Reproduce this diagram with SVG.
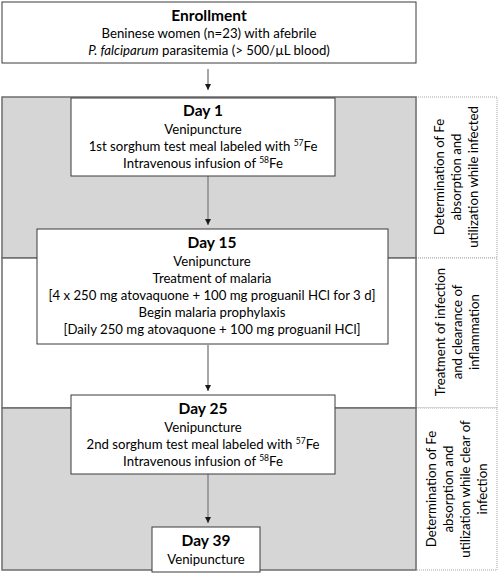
<svg xmlns="http://www.w3.org/2000/svg" width="498" height="574" viewBox="0 0 498 574">
<defs>
<style>
text{font-family:Lato,"Liberation Sans",sans-serif;font-size:13.2px;fill:#000;text-anchor:middle}
.h{font-weight:bold;font-size:15.5px}
.box{fill:#fff;stroke:#3a3a3a;stroke-width:1}
.band{stroke:#6e6e6e;stroke-width:1.5}
.lab{fill:#fff;stroke:#a8a8a8;stroke-width:1;stroke-dasharray:1,1}
.conn{stroke:#8a8a8a;stroke-width:1.5;fill:none;marker-end:url(#ah)}
.sup{font-size:8.5px}
</style>
<marker id="ah" markerWidth="8" markerHeight="8" refX="6" refY="3" orient="auto" markerUnits="userSpaceOnUse">
<path d="M0,0 L6,3 L0,6 Z" fill="#1a1a1a"/>
</marker>
</defs>
<rect x="0" y="0" width="498" height="574" fill="#fff"/>
<g id="labels">
<rect class="lab" x="416" y="97" width="81" height="161"/>
<rect class="lab" x="416" y="258" width="81" height="150"/>
<rect class="lab" x="416" y="408" width="81" height="162"/>
<g transform="translate(457,177) rotate(-90)">
<text x="0" y="-13">Determination of Fe</text>
<text x="0" y="4">absorption and</text>
<text x="0" y="21">utilization while infected</text>
</g>
<g transform="translate(457,332) rotate(-90)">
<text x="0" y="-12">Treatment of infection</text>
<text x="0" y="5">and clearance of</text>
<text x="0" y="22">inflammation</text>
</g>
<g transform="translate(457,489) rotate(-90)">
<text x="0" y="-21">Determination of Fe</text>
<text x="0" y="-4">absorption and</text>
<text x="0" y="13">utilization while clear of</text>
<text x="0" y="30">infection</text>
</g>
</g>
<g id="bands">
<rect class="band" x="2" y="97" width="414" height="161" fill="#d6d6d6"/>
<rect class="band" x="2" y="258" width="414" height="150" fill="#fff"/>
<rect class="band" x="2" y="408" width="414" height="162" fill="#d6d6d6"/>
</g>
<g id="connectors">
<line class="conn" x1="208" y1="69" x2="208" y2="90"/>
<line class="conn" x1="208" y1="176" x2="208" y2="225"/>
<line class="conn" x1="208" y1="345" x2="208" y2="391"/>
<line class="conn" x1="208" y1="474" x2="208" y2="523"/>
</g>
<g id="enrollment">
<rect class="box" x="2" y="2" width="414" height="61"/>
<text class="h" x="209" y="21">Enrollment</text>
<text x="209" y="38">Beninese women (n=23) with afebrile</text>
<text x="209" y="55"><tspan font-style="italic">P. falciparum</tspan> parasitemia (&gt; 500/µL blood)</text>
</g>
<g id="day1">
<rect class="box" x="71" y="98" width="264" height="78"/>
<text class="h" x="203" y="116">Day 1</text>
<text x="203" y="134">Venipuncture</text>
<text x="203" y="151">1st sorghum test meal labeled with <tspan class="sup" dy="-5">57</tspan><tspan dy="5">Fe</tspan></text>
<text x="203" y="168">Intravenous infusion of <tspan class="sup" dy="-5">58</tspan><tspan dy="5">Fe</tspan></text>
</g>
<g id="day15">
<rect class="box" x="37" y="229" width="351" height="115"/>
<text class="h" x="212" y="248">Day 15</text>
<text x="212" y="266">Venipuncture</text>
<text x="212" y="283">Treatment of malaria</text>
<text x="212" y="300">[4 x 250 mg atovaquone + 100 mg proguanil HCl for 3 d]</text>
<text x="212" y="317">Begin malaria prophylaxis</text>
<text x="212" y="334">[Daily 250 mg atovaquone + 100 mg proguanil HCl]</text>
</g>
<g id="day25">
<rect class="box" x="71" y="395" width="264" height="79"/>
<text class="h" x="203" y="414">Day 25</text>
<text x="203" y="432">Venipuncture</text>
<text x="203" y="449">2nd sorghum test meal labeled with <tspan class="sup" dy="-5">57</tspan><tspan dy="5">Fe</tspan></text>
<text x="203" y="466">Intravenous infusion of <tspan class="sup" dy="-5">58</tspan><tspan dy="5">Fe</tspan></text>
</g>
<g id="day39">
<rect class="box" x="152" y="527" width="108" height="45"/>
<text class="h" x="206" y="546">Day 39</text>
<text x="206" y="564">Venipuncture</text>
</g>
</svg>
